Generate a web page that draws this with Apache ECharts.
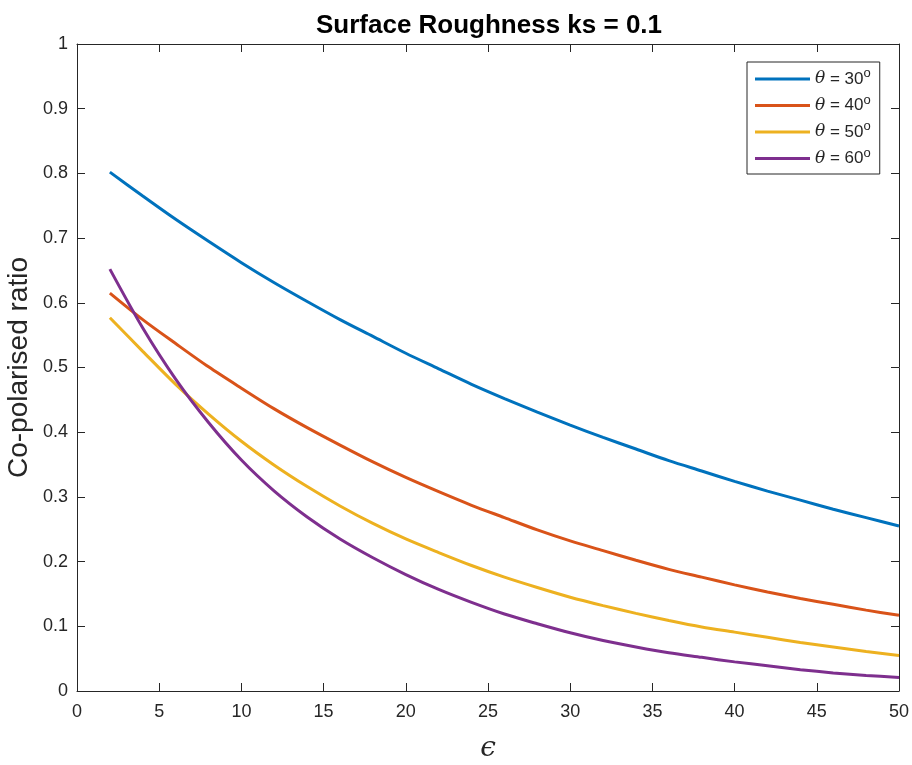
<!DOCTYPE html>
<html>
<head>
<meta charset="utf-8">
<script src="https://cdn.jsdelivr.net/npm/echarts@6/dist/echarts.min.js"></script>
<style>
html,body{margin:0;padding:0;background:#fff;}
#chart{width:912px;height:765px;}
</style>
</head>
<body>
<div id="chart"></div>
<script>
const xValues = [2,4,6,8,10,12,14,16,18,20,22,24,26,28,30,32,34,36,38,40,42,44,46,48,50];
const theta30 = [0.802,0.765,0.729,0.695,0.662,0.631,0.602,0.574,0.548,0.522,0.498,0.474,0.452,0.431,0.411,0.392,0.374,0.356,0.340,0.324,0.309,0.295,0.281,0.268,0.255];
const theta40 = [0.615,0.574,0.537,0.501,0.468,0.436,0.407,0.380,0.354,0.330,0.308,0.287,0.268,0.249,0.232,0.217,0.202,0.188,0.176,0.164,0.153,0.143,0.134,0.125,0.117];
const theta50 = [0.577,0.525,0.474,0.428,0.386,0.349,0.316,0.286,0.259,0.235,0.214,0.194,0.176,0.160,0.145,0.132,0.120,0.109,0.099,0.091,0.083,0.075,0.068,0.061,0.055];
const theta60 = [0.652,0.561,0.482,0.415,0.357,0.309,0.269,0.235,0.206,0.180,0.157,0.137,0.119,0.104,0.090,0.078,0.068,0.059,0.052,0.045,0.039,0.033,0.028,0.024,0.021];
const seriesNames = ['30','40','50','60'];
const seriesColors = ['#0072BD','#D95319','#EDB120','#7E2F8E'];
const seriesData = [theta30, theta40, theta50, theta60];

const chart = echarts.init(document.getElementById('chart'));
const axisColor = '#262626';
const font = '"Liberation Sans", Arial, Helvetica, sans-serif';
const serif = '"DejaVu Serif", "Liberation Serif", serif';

function xAxisCfg(pos, show){
  return {
    type:'value', position:pos, min:0, max:50, interval:5,
    axisLine:{show:true, onZero:false, lineStyle:{color:axisColor, width:1}},
    axisTick:{show:true, inside:true, length:8, lineStyle:{color:axisColor}},
    axisLabel:{show:show, color:axisColor, fontSize:18, fontFamily:font, margin:12},
    splitLine:{show:false}
  };
}
function yAxisCfg(pos, show){
  return {
    type:'value', position:pos, min:0, max:1, interval:0.1,
    axisLine:{show:true, onZero:false, lineStyle:{color:axisColor, width:1}},
    axisTick:{show:true, inside:true, length:8, lineStyle:{color:axisColor}},
    axisLabel:{show:show, color:axisColor, fontSize:18, fontFamily:font, margin:9,
      formatter: v => String(Math.round(v*10)/10)},
    splitLine:{show:false}
  };
}

const xb = xAxisCfg('bottom', true);
xb.name = 'ϵ';
xb.nameLocation = 'middle';
xb.nameGap = 44;
xb.nameMoveOverlap = false;
xb.nameTextStyle = {fontFamily:serif, fontStyle:'italic', fontSize:28, color:axisColor};
const yl = yAxisCfg('left', true);
yl.name = 'Co-polarised ratio';
yl.nameLocation = 'middle';
yl.nameGap = 44;
yl.nameMoveOverlap = false;
yl.nameTextStyle = {fontFamily:font, fontSize:28, color:axisColor};

const option = {
  backgroundColor:'#ffffff',
  animation:false,
  title:{
    text:'Surface Roughness ks = 0.1',
    left:484, textAlign:'center', top:8,
    textStyle:{fontFamily:font, fontWeight:'bold', fontSize:26, color:'#000'}
  },
  grid:{left:77, right:13, top:44, bottom:74, containLabel:false, outerBoundsMode:'none'},
  xAxis:[xb, xAxisCfg('top', false)],
  yAxis:[yl, yAxisCfg('right', false)],
  legend:{
    left:747, top:62, orient:'vertical',
    backgroundColor:'#fff',
    borderColor:axisColor, borderWidth:1, borderRadius:0,
    padding:[5,9,5,8],
    itemGap:4,
    itemWidth:55, itemHeight:3,
    icon:'rect',
    data: seriesNames,
    formatter: n => '{i|θ} = ' + n + '{s|o}',
    textStyle:{
      fontFamily:font, fontSize:17, color:axisColor, lineHeight:21,
      rich:{
        i:{fontFamily:serif, fontStyle:'italic', fontSize:17, color:axisColor},
        s:{fontSize:13, color:axisColor, padding:[0,0,11,0], fontFamily:font}
      }
    }
  },
  series: seriesNames.map((n,i)=>({
    name:n, type:'line', xAxisIndex:0, yAxisIndex:0,
    data: xValues.map((x,j)=>[x, seriesData[i][j]]),
    showSymbol:false, symbol:'none', smooth:0.3,
    lineStyle:{color:seriesColors[i], width:3},
    itemStyle:{color:seriesColors[i]}
  }))
};
chart.setOption(option);
</script>
</body>
</html>
